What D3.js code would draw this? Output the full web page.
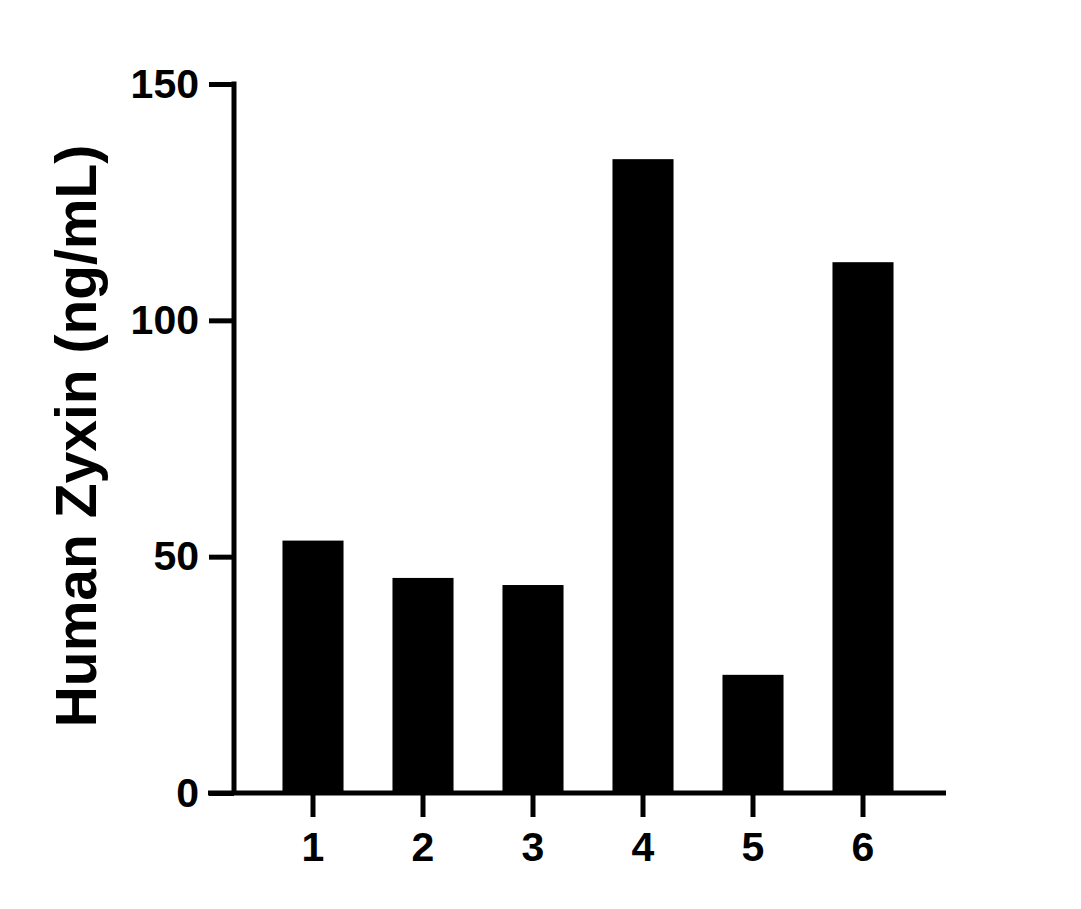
<!DOCTYPE html>
<meta charset="utf-8">
<style>
body { margin: 0; background: #fff; }
text { font-family: "Liberation Sans", Arial, sans-serif; font-weight: bold; fill: #000; }
.axis path, .axis line { stroke: #000; stroke-width: 5px; }
</style>
<svg width="1081" height="909"></svg>
<script src="https://cdn.jsdelivr.net/npm/d3@7"></script>
<script>

var categories = ["1", "2", "3", "4", "5", "6"],
    values = [53.4, 45.5, 44.0, 134.1, 25.0, 112.3],
    yTicks = [0, 50, 100, 150];

var svg = d3.select("svg");

var x = d3.scaleBand()
    .domain(categories)
    .range([258, 918])
    .paddingInner(0.445)
    .paddingOuter(0.2225);

var y = d3.scaleLinear()
    .domain([0, 150])
    .range([793, 84]);

// bars
svg.selectAll(".bar")
    .data(values)
  .enter().append("rect")
    .attr("class", "bar")
    .attr("x", function(d, i) { return x(categories[i]); })
    .attr("y", function(d) { return y(d); })
    .attr("width", x.bandwidth())
    .attr("height", function(d) { return y(0) - y(d); })
    .attr("fill", "#000");

// y axis
var yAxis = svg.append("g")
    .attr("class", "axis")
    .attr("transform", "translate(234,0)")
    .call(d3.axisLeft(y).tickValues(yTicks).tickSize(25).tickSizeOuter(0).tickPadding(10));
yAxis.select(".domain").attr("d", "M0," + (y(150) - 2.5) + "V" + y(0));
yAxis.selectAll("text").style("font-size", "41px");

// x axis
var xAxis = svg.append("g")
    .attr("class", "axis")
    .attr("transform", "translate(0," + y(0) + ")")
    .call(d3.axisBottom(x).tickSize(24).tickPadding(15));
xAxis.select(".domain").attr("d", "M208,0H946");
xAxis.selectAll("text").style("font-size", "41px");

// y label
svg.append("text")
    .attr("transform", "translate(96," + 436 + ") rotate(-90)")
    .attr("text-anchor", "middle")
    .style("font-size", "57px")
    .text("Human Zyxin (ng/mL)");

</script>
